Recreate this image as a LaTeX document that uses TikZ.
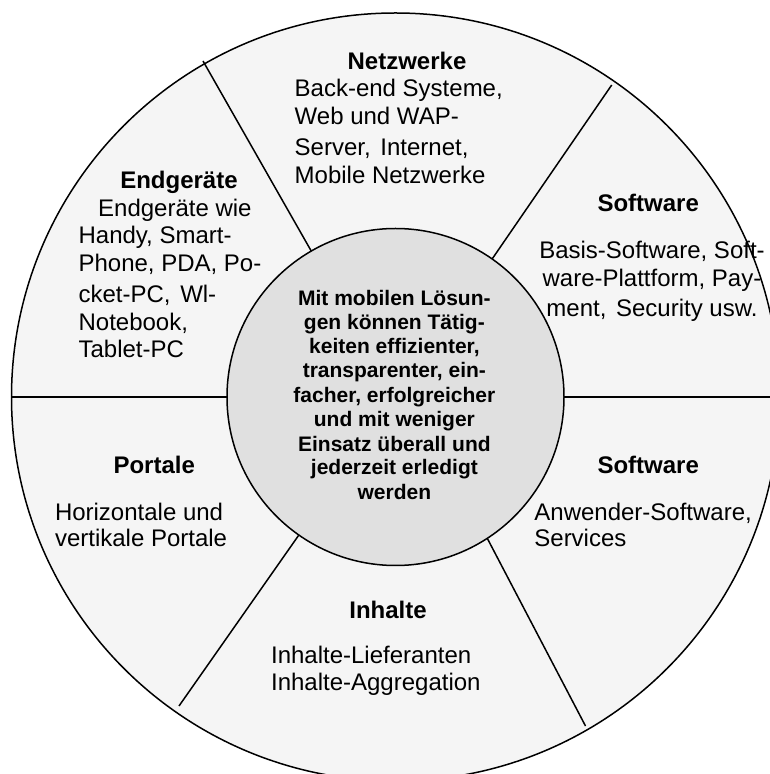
\documentclass[tikz,border=0pt]{standalone}
\usepackage{fontspec}
\setmainfont{Liberation Sans}
\begin{document}
\begin{tikzpicture}[x=1pt,y=1pt,
  kopf/.style={anchor=base,inner sep=0pt,outer sep=0pt,font=\fontsize{24}{28}\selectfont\bfseries},
  rumpf/.style={anchor=base west,inner sep=0pt,outer sep=0pt,font=\fontsize{24}{28}\selectfont},
  rumpfmitte/.style={rumpf,anchor=base},
  kernzeile/.style={anchor=base,inner sep=0pt,outer sep=0pt,font=\fontsize{21}{24}\selectfont\bfseries},
  linie/.style={draw=drawColor,line width=1.5pt}]
\definecolor{fillColor}{rgb}{1.00,1.00,1.00}
\path[use as bounding box,fill=fillColor] (0,0) rectangle (770,774);
\begin{scope}
\path[clip] (0,0) rectangle (770,774);
\definecolor{drawColor}{rgb}{0.00,0.00,0.00}
\definecolor{fillColor}{rgb}{0.96,0.96,0.96}
\definecolor{kernColor}{rgb}{0.88,0.88,0.88}

\path[linie,fill=fillColor] (395.5,377) circle (384);

\coordinate (aussenW) at ( 11.7,377.0);
\coordinate (aussenO) at (780.0,377.0);
\coordinate (aussenNW) at (203.0,713.0);
\coordinate (aussenNO) at (611.7,689.0);
\coordinate (aussenSO) at (585.5, 48.0);
\coordinate (aussenSW) at (179.0, 68.0);

\node[circle,linie,fill=kernColor,minimum size=337pt,inner sep=0pt,outer sep=0pt] (kern) at (395.5,377) {};

\path[linie,line width=2pt] (kern.west) -- (aussenW);
\path[linie,line width=2pt] (kern.east) -- (aussenO);
\path[linie] (kern.120) -- (aussenNW);
\path[linie] (kern.55.3) -- (aussenNO);
\path[linie] (kern.-57.7) -- (aussenSO);
\path[linie] (kern.-125.3) -- (aussenSW);

\node[kopf] (netzKopf) at (407.0,704.3) {Netzwerke};
\node[rumpf] (netz1) at (294.7,677.0) {Back-end Systeme,};
\node[rumpf] (netz2) at (294.7,649.0) {Web und WAP-};
\node[rumpf] (netz3) at (294.7,618.0) {Server, \hspace{3pt}Internet,};
\node[rumpf] (netz4) at (294.7,590.0) {Mobile Netzwerke};

\node[kopf] (endKopf) at (179.0,585.0) {Endgeräte};
\node[rumpf] (end1) at ( 98.2,557.0) {Endgeräte wie};
\node[rumpf] (end2) at ( 78.6,530.0) {Handy, Smart-};
\node[rumpf] (end3) at ( 78.6,502.0) {Phone, PDA, Po-};
\node[rumpf] (end4) at ( 78.6,471.0) {cket-PC, \hspace{3pt}Wl-};
\node[rumpf] (end5) at ( 78.6,443.0) {Notebook,};
\node[rumpf] (end6) at ( 78.6,416.0) {Tablet-PC};

\node[kopf] (basisKopf) at (648.2,562.0) {Software};
\node[rumpfmitte] (basis1) at (652.0,515.0) {Basis-Software, Soft-};
\node[rumpfmitte] (basis2) at (652.0,487.0) {ware-Plattform, Pay-};
\node[rumpfmitte] (basis3) at (652.0,457.0) {ment, \hspace{3pt}Security usw.};

\node[kernzeile] (kern1) at (394.4,468.5) {Mit mobilen Lösun-};
\node[kernzeile] (kern2) at (394.4,444.0) {gen können Tätig-};
\node[kernzeile] (kern3) at (394.4,420.5) {keiten effizienter,};
\node[kernzeile] (kern4) at (394.4,396.0) {transparenter, ein-};
\node[kernzeile] (kern5) at (394.4,371.5) {facher, erfolgreicher};
\node[kernzeile] (kern6) at (394.4,347.0) {und mit weniger};
\node[kernzeile] (kern7) at (394.4,322.5) {Einsatz überall und};
\node[kernzeile] (kern8) at (394.4,299.0) {jederzeit erledigt};
\node[kernzeile] (kern9) at (394.4,274.0) {werden};

\node[kopf] (portKopf) at (154.2,300.0) {Portale};
\node[rumpf] (port1) at ( 55.0,253.0) {Horizontale und};
\node[rumpf] (port2) at ( 55.0,227.0) {vertikale Portale};

\node[kopf] (anwKopf) at (648.2,300.0) {Software};
\node[rumpf] (anw1) at (534.4,253.0) {Anwender-Software,};
\node[rumpf] (anw2) at (534.4,227.0) {Services};

\node[kopf] (inhKopf) at (388.0,155.5) {Inhalte};
\node[rumpf] (inh1) at (271.1,110.0) {Inhalte-Lieferanten};
\node[rumpf] (inh2) at (271.1, 83.0) {Inhalte-Aggregation};
\end{scope}
\end{tikzpicture}
\end{document}
